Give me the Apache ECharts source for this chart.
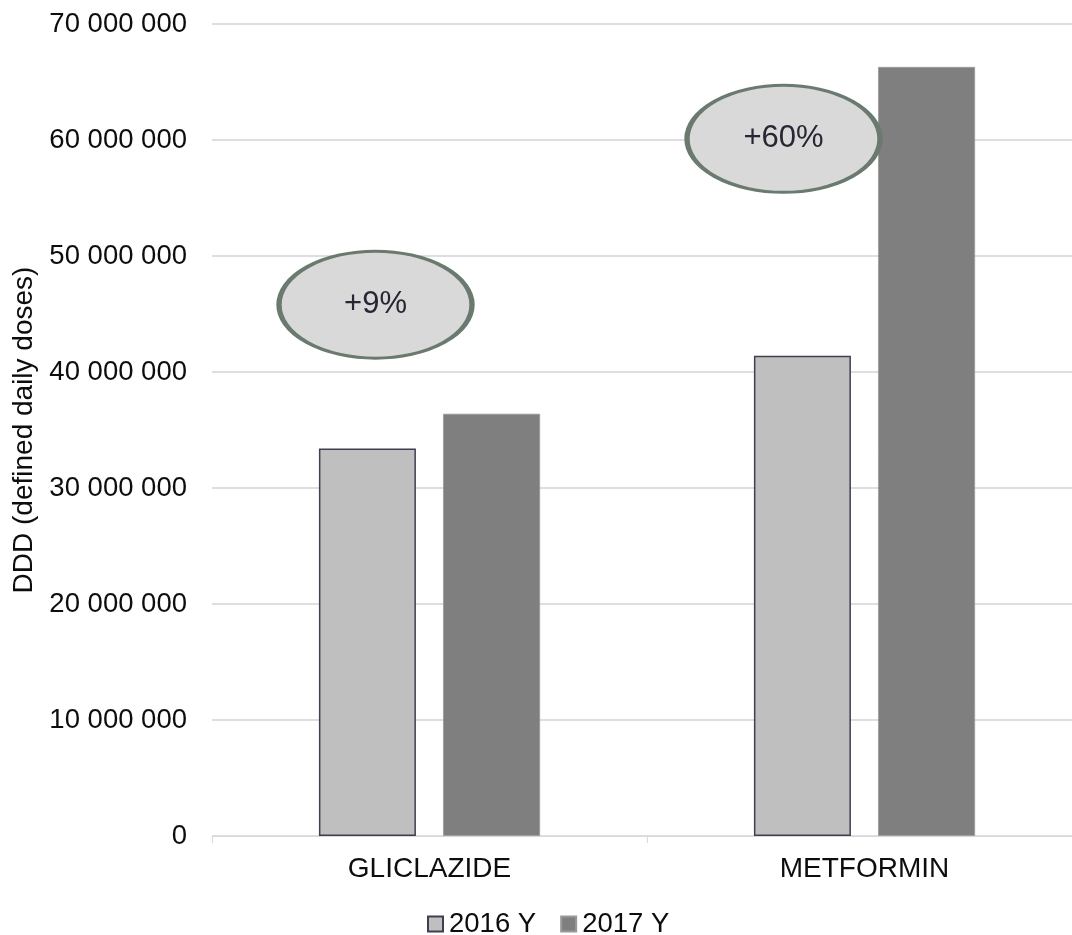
<!DOCTYPE html>
<html>
<head>
<meta charset="utf-8">
<title>DDD – Gliclazide and Metformin</title>
<script src="https://cdn.jsdelivr.net/npm/echarts@6/dist/echarts.min.js"></script>
<style>
  html, body { margin: 0; padding: 0; background: #ffffff; overflow: hidden; }
  /* the plot area runs slightly past the right edge of the page */
  #chart { width: 1084px; height: 935px; }
</style>
</head>
<body>
<div id="chart"></div>
<script>
// Defined daily doses per active substance, two consecutive years
const categories = ['GLICLAZIDE', 'METFORMIN'];
const seriesNames = ['2016 Y', '2017 Y'];
const values2016 = [33400000, 41400000];
const values2017 = [36400000, 66300000];
const yTicks = [0, 10000000, 20000000, 30000000, 40000000, 50000000, 60000000, 70000000];

const FONT = '"Liberation Sans", Arial, sans-serif';

// year-over-year growth labels, computed from the bar values
const growthLabels = categories.map((c, i) =>
  '+' + Math.round((values2017[i] / values2016[i] - 1) * 100) + '%');

// where each growth bubble sits: value level and horizontal shift from the category centre
const bubbleAnchors = [
  { level: 45800000, shift: -54 },
  { level: 60100000, shift: -81 }
];

function spaced(v) {
  return String(v).replace(/\B(?=(\d{3})+(?!\d))/g, ' ');
}

const chart = echarts.init(document.getElementById('chart'), null, { renderer: 'canvas' });

chart.setOption({
  animation: false,
  backgroundColor: '#ffffff',
  textStyle: { fontFamily: FONT },
  grid: { left: 212, top: 24, width: 870, height: 812, containLabel: false },
  legend: {
    data: seriesNames,
    left: 422,
    top: 905,
    icon: 'rect',
    itemWidth: 15,
    itemHeight: 15,
    itemGap: 24,
    textStyle: { fontFamily: FONT, fontSize: 27.5, color: '#0d0d0d', padding: [0, 0, 0, 1] }
  },
  xAxis: {
    type: 'category',
    data: categories,
    axisLine: { show: true, lineStyle: { color: '#d9d9d9', width: 1 } },
    axisTick: { show: true, length: 7, lineStyle: { color: '#d9d9d9' } },
    axisLabel: { margin: 19, fontFamily: FONT, fontSize: 28, color: '#0d0d0d' },
    splitLine: { show: false }
  },
  yAxis: {
    type: 'value',
    min: yTicks[0],
    max: yTicks[yTicks.length - 1],
    interval: yTicks[1] - yTicks[0],
    name: 'DDD (defined daily doses)',
    nameLocation: 'middle',
    nameGap: 173,
    nameTextStyle: { fontFamily: FONT, fontSize: 28, color: '#0d0d0d' },
    axisLine: { show: false },
    axisTick: { show: false },
    axisLabel: { margin: 25, fontFamily: FONT, fontSize: 27.5, color: '#0d0d0d', formatter: spaced },
    splitLine: { show: true, lineStyle: { color: '#dedde4', width: 2 } }
  },
  series: [
    {
      name: seriesNames[0],
      type: 'bar',
      data: values2016,
      barWidth: 97,
      barGap: '28%',
      itemStyle: { color: '#bfbfbf', borderColor: '#403e52', borderWidth: 1.5 },
      emphasis: { disabled: true }
    },
    {
      name: seriesNames[1],
      type: 'bar',
      data: values2017,
      barWidth: 97,
      barGap: '28%',
      itemStyle: { color: '#7f7f7f', borderColor: '#9a9a9a', borderWidth: 0.8 },
      emphasis: { disabled: true }
    },
    {
      name: 'growth',
      type: 'scatter',
      silent: true,
      z: 5,
      symbol: 'path://M0 50 A100 50 0 1 1 200 50 A100 50 0 1 1 0 50 Z',
      symbolKeepAspect: false,
      symbolSize: [193, 107],
      itemStyle: { color: '#d9d9d9', borderColor: '#6b7a6f', borderWidth: 4, opacity: 1 },
      label: {
        show: true,
        position: 'inside',
        fontFamily: FONT,
        fontSize: 31,
        color: '#262634',
        formatter: p => growthLabels[p.dataIndex]
      },
      data: categories.map((c, i) => ({
        value: [c, bubbleAnchors[i].level],
        symbolOffset: [bubbleAnchors[i].shift, 0]
      })),
      emphasis: { disabled: true }
    }
  ]
});
</script>
</body>
</html>
